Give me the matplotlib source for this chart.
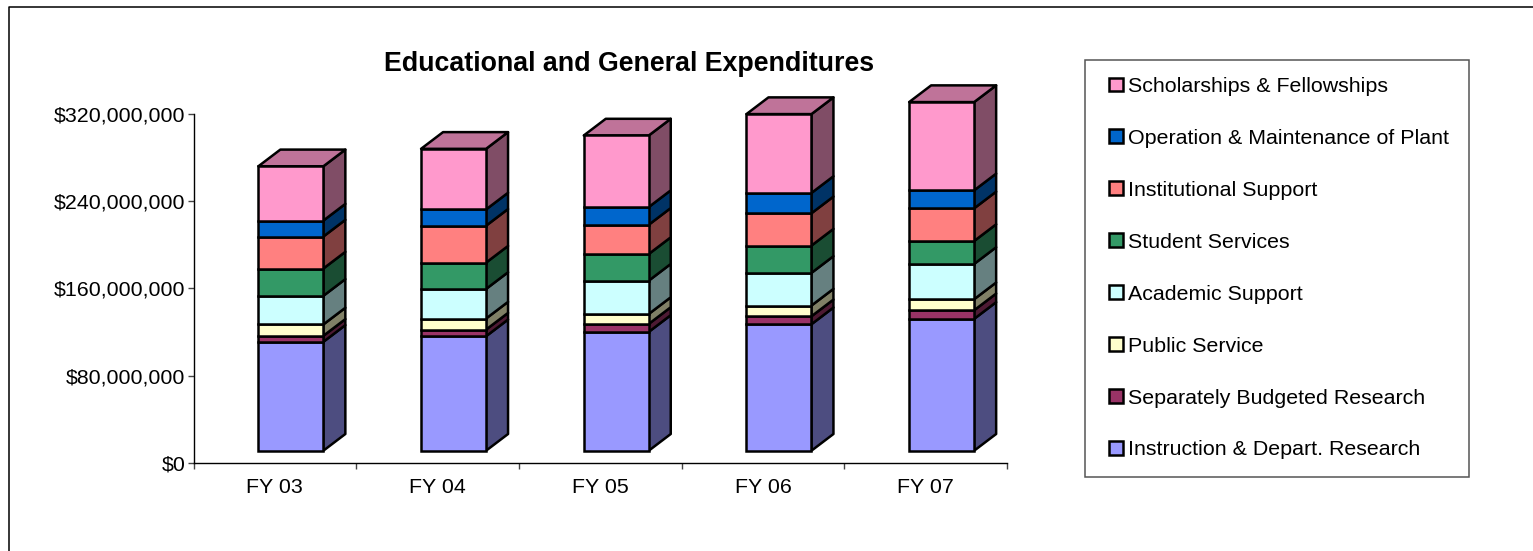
import matplotlib
matplotlib.use("Agg")
import matplotlib.pyplot as plt
from matplotlib.patches import Polygon, Patch, Rectangle
from matplotlib.legend_handler import HandlerPatch
from matplotlib.lines import Line2D
from matplotlib.ticker import FuncFormatter
import numpy as np

plt.rcParams['font.family'] = ['Liberation Sans', 'DejaVu Sans']

categories = ["FY 03", "FY 04", "FY 05", "FY 06", "FY 07"]
series_names = ["Instruction & Depart. Research", "Separately Budgeted Research", "Public Service",
                "Academic Support", "Student Services", "Institutional Support",
                "Operation & Maintenance of Plant", "Scholarships & Fellowships"]
# millions of dollars
instruction = [99.7, 104.8, 108.8, 115.8, 120.7]
research = [5.5, 6.1, 7.3, 7.3, 7.9]
public_service = [10.4, 10.1, 9.1, 9.8, 10.1]
academic = [26.2, 27.1, 30.5, 29.9, 32.3]
student = [25.0, 24.1, 24.4, 25.0, 21.0]
institutional = [29.3, 33.8, 26.8, 29.6, 29.9]
operation = [14.6, 14.9, 16.2, 18.6, 16.5]
scholarships = [49.7, 55.5, 65.5, 72.2, 80.8]
yticks_m = [0, 80, 160, 240, 320]

front_colors = ["#9999FF", "#993366", "#FFFFCC", "#CCFFFF", "#339966", "#FF8080", "#0066CC", "#FF99CC"]
side_colors = ["#4D4D80", "#4D1A33", "#808066", "#668080", "#1A4D33", "#804040", "#003366", "#804D66"]
top_color = "#BF7399"

W, H = 1533, 551
FS = 15.4
fig = plt.figure(figsize=(W / 100, H / 100), dpi=100, facecolor="white")
L, R, T, B = 193.5, 1007, 113.5, 463
ax = fig.add_axes([L / W, 1 - B / H, (R - L) / W, (B - T) / H])
ax.set_xlim(0, len(categories))
ax.set_ylim(0, 320)
ax.patch.set_alpha(0)

px_x = len(categories) / (R - L)
px_y = 320 / (B - T)
depth_x, depth_y = 22 * px_x, 16.7 * px_y
floor = 12.3 * px_y
shift = 16 * px_x
bar_w = 65 * px_x
LW = 1.8

all_series = [instruction, research, public_service, academic, student, institutional, operation, scholarships]
centers = np.arange(len(categories)) + 0.5 + shift
bottom = np.full(len(categories), floor)
for vals, fc, sc in zip(all_series, front_colors, side_colors):
    vals = np.array(vals)
    top = bottom + vals
    for c, b, t in zip(centers, bottom, top):
        xr = c + bar_w / 2
        ax.add_patch(Polygon([(xr, b), (xr + depth_x, b + depth_y), (xr + depth_x, t + depth_y), (xr, t)],
                             closed=True, facecolor=sc, edgecolor="black", lw=LW, clip_on=False,
                             joinstyle="round", zorder=2))
    ax.bar(centers, vals, bar_w, bottom=bottom, color=fc, edgecolor="black", lw=LW, clip_on=False, zorder=3)
    bottom = top
for c, t in zip(centers, bottom):
    xl, xr = c - bar_w / 2, c + bar_w / 2
    ax.add_patch(Polygon([(xl, t), (xl + depth_x, t + depth_y), (xr + depth_x, t + depth_y), (xr, t)],
                         closed=True, facecolor=top_color, edgecolor="black", lw=LW, clip_on=False,
                         joinstyle="round", zorder=2))

for s in ("top", "right"):
    ax.spines[s].set_visible(False)
for s in ("left", "bottom"):
    ax.spines[s].set_linewidth(1.0)
ax.set_yticks(yticks_m)
ax.yaxis.set_major_formatter(FuncFormatter(lambda v, p: f"${v * 1e6:,.0f}"))
ax.set_xticks(np.arange(len(categories) + 1))
ax.set_xticklabels([])
ax.set_xticks(np.arange(len(categories)) + 0.5, categories, minor=True)
ax.tick_params(axis="x", which="major", length=4.3, width=1.0, color="#444444")
ax.tick_params(axis="x", which="minor", length=0, labelsize=FS, pad=11)
ax.tick_params(axis="y", length=4.3, width=1.0, color="#444444", labelsize=FS, pad=1.5)

fig.text(629 / W, 1 - 71 / H, "Educational and General Expenditures", ha="center", va="baseline",
         fontsize=19.3, fontweight="bold", color="black")


def swatch(legend, orig_handle, xdescent, ydescent, width, height, fontsize):
    s = 10.0
    return Rectangle((width - s - xdescent, (height - s) / 2 - ydescent), s, s)


handles = [Patch(facecolor=c, edgecolor="black", lw=LW) for c in front_colors][::-1]
leg = fig.legend(handles, series_names[::-1], loc="upper left",
                 bbox_to_anchor=(1084.5 / W, 1 - 476 / H, (1469 - 1084.5) / W, (476 - 59.5) / H),
                 mode="expand", borderaxespad=0, fontsize=FS, frameon=True, fancybox=False,
                 edgecolor="#555555", framealpha=1, labelspacing=1.535, borderpad=0.81,
                 handlelength=1.0, handleheight=0.72, handletextpad=0.23,
                 handler_map={Patch: HandlerPatch(patch_func=swatch)})
leg.get_frame().set_linewidth(1.1)

fig.add_artist(Line2D([9.0 / W, 9.0 / W, 1], [0, 1 - 6.5 / H, 1 - 6.5 / H], color="black", lw=1.1))

fig.savefig("out.png", dpi=100)
